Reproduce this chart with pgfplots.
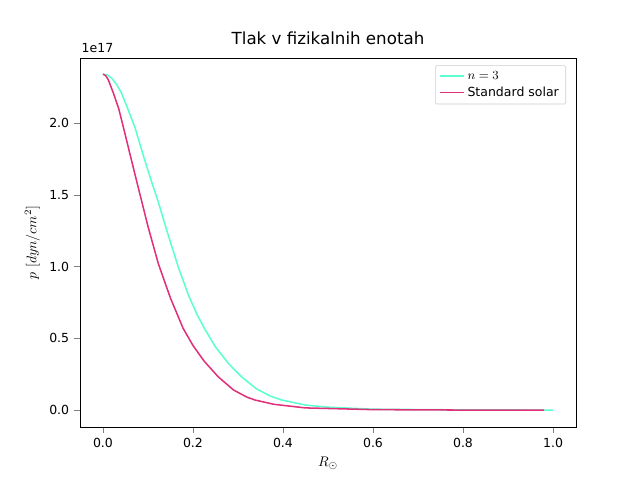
\documentclass[border=0pt]{standalone}
\usepackage{pgfplots}
\pgfplotsset{compat=1.18}
\usepackage{fontspec}
\setmainfont{DejaVu Sans}
\definecolor{cyanc}{HTML}{5CFFCF}
\definecolor{redc}{HTML}{E0307A}
\begin{document}
\begin{tikzpicture}
\useasboundingbox (-57.6pt,-38.16pt) rectangle (403.2pt,307.44pt);
\begin{axis}[
  scale only axis, width=357.1pt, height=265.7pt,
  at={(0,0)}, anchor=south west,
  clip=false,
  xmin=-0.051, xmax=1.051, ymin=-0.118, ymax=2.453,
  xtick={0,0.2,0.4,0.6,0.8,1.0},
  xticklabels={0.0,0.2,0.4,0.6,0.8,1.0},
  ytick={0,0.5,1.0,1.5,2.0},
  yticklabels={0.0,0.5,1.0,1.5,2.0},
  tick label style={font=\small},
  title={Tlak v fizikalnih enotah},
  title style={font=\large},
  xlabel={$R_\odot$},
  ylabel={$p\ [dyn/cm^2]$},
  tick align=outside, xtick pos=bottom, ytick pos=left,
  legend style={font=\small, draw=black!20, rounded corners=1pt, at={(0.98,0.98)}, anchor=north east},
  legend cell align=left,
]
\addplot[color=cyanc, line width=1.1pt] coordinates {
(0,2.34)(0.01,2.335)(0.02,2.31)(0.03,2.27)(0.041,2.21)(0.055,2.10)(0.071,1.97)(0.09,1.77)(0.105,1.62)(0.123,1.45)(0.14,1.27)(0.167,1.0)(0.19,0.80)(0.21,0.66)(0.227,0.56)(0.25,0.44)(0.28,0.32)(0.308,0.232)(0.34,0.15)(0.37,0.10)(0.397,0.07)(0.45,0.035)(0.5,0.02)(0.6,0.006)(0.8,0.001)(1.0,0)};
\addlegendentry{$n=3$}
\addplot[color=redc, line width=1.1pt] coordinates {
(0,2.34)(0.006,2.33)(0.012,2.3)(0.023,2.21)(0.035,2.10)(0.047,1.95)(0.065,1.72)(0.084,1.48)(0.1,1.28)(0.123,1.02)(0.15,0.78)(0.178,0.57)(0.2,0.45)(0.225,0.34)(0.256,0.232)(0.29,0.14)(0.32,0.09)(0.338,0.07)(0.38,0.04)(0.45,0.015)(0.6,0.003)(0.8,0)(0.98,0)};
\addlegendentry{Standard solar}
\node[anchor=south west, font=\small, inner sep=1pt] at (rel axis cs:0,1.01) {1e17};
\end{axis}
\end{tikzpicture}
\end{document}
